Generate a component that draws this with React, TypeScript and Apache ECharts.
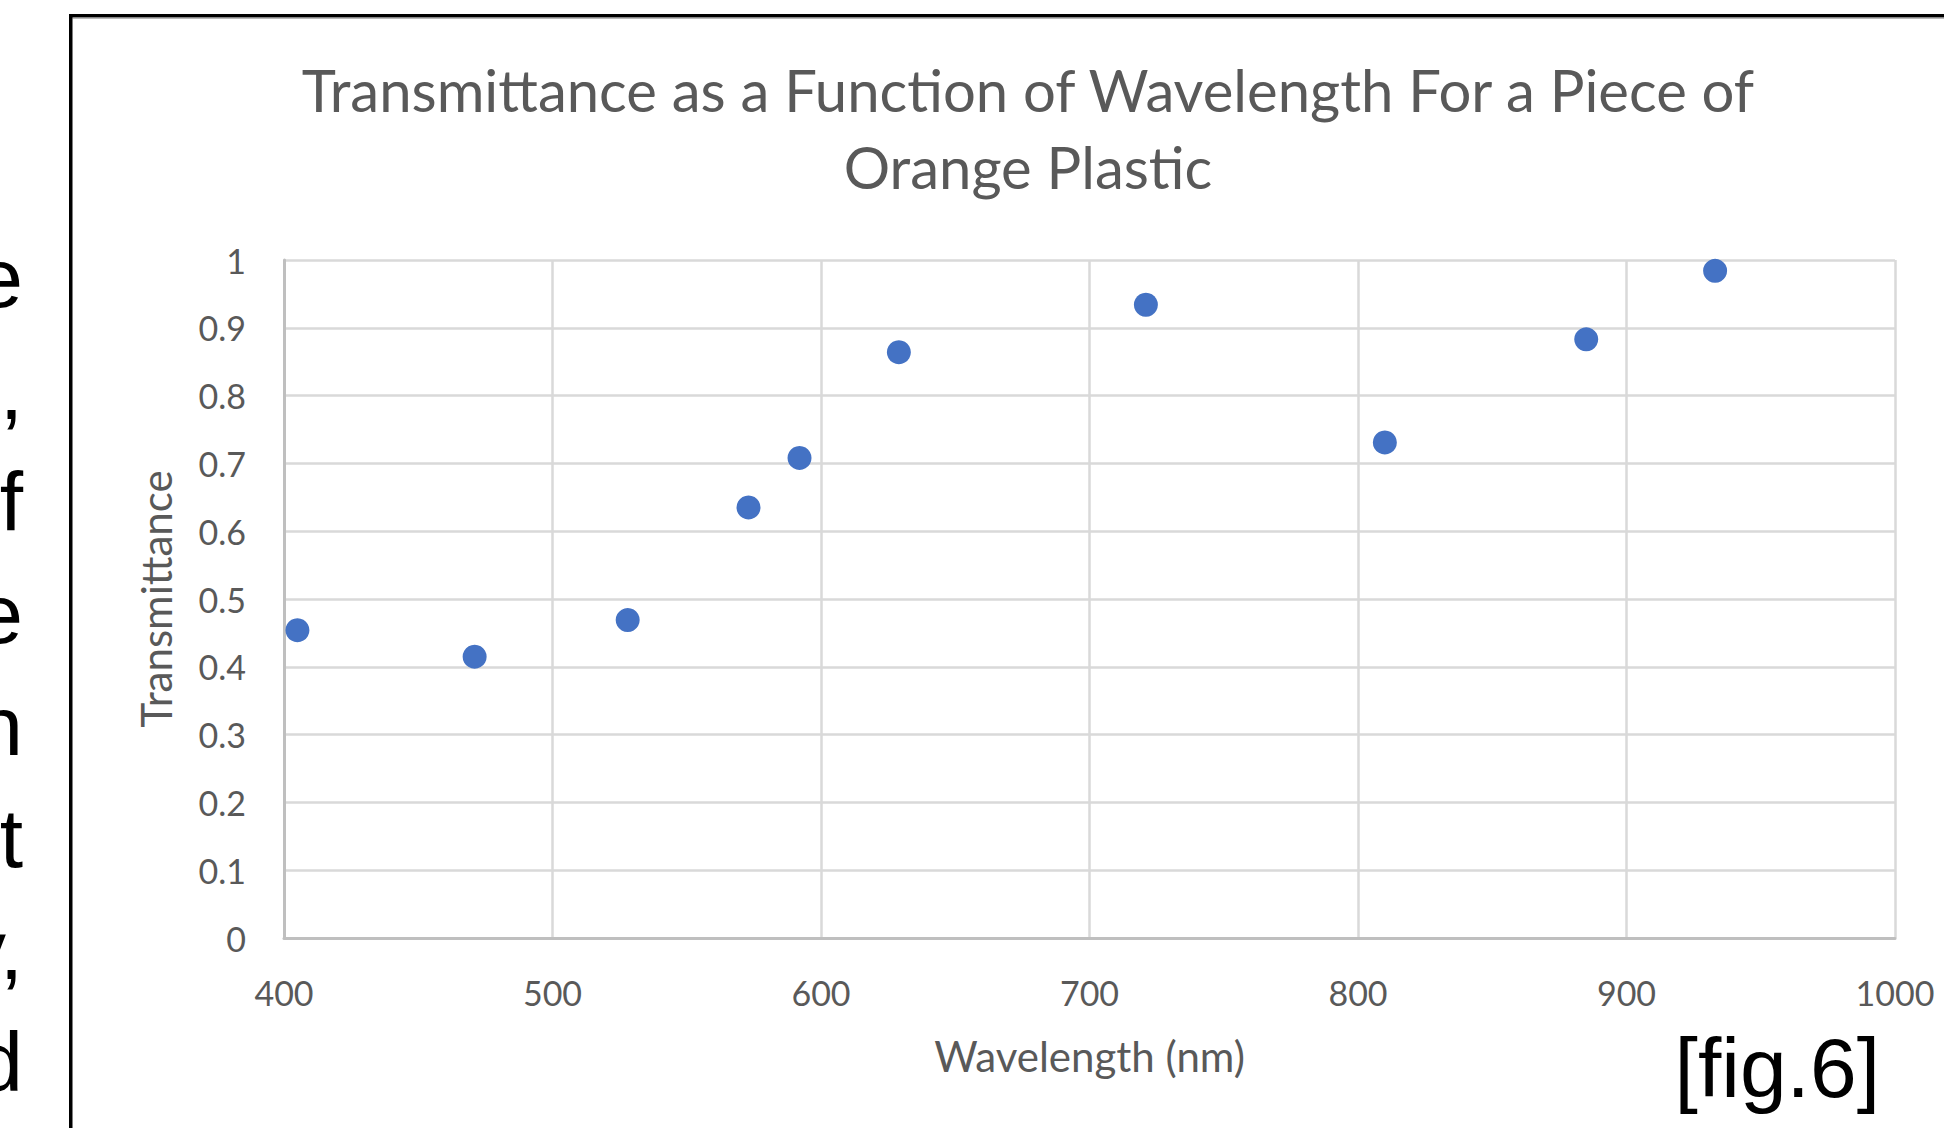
import React, { useEffect, useRef } from "react";
import * as echarts from "echarts";

const wavelengths = [405, 471, 528, 573, 592, 629, 721, 810, 885, 933];
const transmittance = [0.454, 0.415, 0.469, 0.635, 0.708, 0.864, 0.934, 0.731, 0.883, 0.984];
const titleLines = ["Transmittance as a Function of Wavelength For a Piece of", "Orange Plastic"];
const fragmentLines = ["e", ",", "f", "e", "n", "t", "y,", "d"];
const figLabel = "[fig.6]";

const GRAY = "#595959";

export default function App() {
  const ref = useRef<HTMLDivElement>(null);
  useEffect(() => {
    if (!ref.current) return;
    const chart = echarts.init(ref.current, null, { renderer: "svg" });
    const data = wavelengths.map((w, i) => [w, transmittance[i]]);
    const graphics: any[] = [];
    // outer frame
    graphics.push({
      type: "line",
      shape: { x1: 69, y1: 15.75, x2: 1944, y2: 15.75 },
      style: { stroke: "#000", lineWidth: 3.5 },
    });
    graphics.push({
      type: "line",
      shape: { x1: 72.5, y1: 18.2, x2: 1944, y2: 18.2 },
      style: { stroke: "#9a9a9a", lineWidth: 1 },
    });
    graphics.push({
      type: "line",
      shape: { x1: 70.75, y1: 14, x2: 70.75, y2: 1128 },
      style: { stroke: "#000", lineWidth: 3.5 },
    });
    titleLines.forEach((t, i) => {
      graphics.push({
        type: "text",
        x: 1028,
        y: 89 + i * 77,
        style: {
          text: t,
          fill: GRAY,
          font: "58px Lato",
          align: "center",
          verticalAlign: "middle",
        },
      });
    });
    fragmentLines.forEach((t, i) => {
      graphics.push({
        type: "text",
        x: 23,
        y: 307 + i * 112 - 29,
        style: {
          text: t,
          fill: "#000",
          font: "84px 'Liberation Sans'",
          align: "right",
          verticalAlign: "middle",
        },
      });
    });
    graphics.push({
      type: "text",
      x: 1880,
      y: 1068,
      style: {
        text: figLabel,
        fill: "#000",
        font: "84px 'Liberation Sans'",
        align: "right",
        verticalAlign: "middle",
      },
    });

    chart.setOption({
      animation: false,
      backgroundColor: "#fff",
      grid: { left: 284, right: 49, top: 260, bottom: 190, containLabel: false },
      xAxis: {
        type: "value",
        min: 400,
        max: 1000,
        interval: 100,
        name: "Wavelength (nm)",
        nameLocation: "middle",
        nameGap: 97,
        nameTextStyle: { color: GRAY, fontSize: 42, fontFamily: "Lato" },
        axisLine: { show: true, onZero: false, lineStyle: { color: "#bfbfbf", width: 3 } },
        axisTick: { show: false },
        axisLabel: {
          color: GRAY,
          fontSize: 34,
          fontFamily: "Lato",
          margin: 37,
          formatter: (v: number) => String(v),
        },
        splitLine: { show: true, lineStyle: { color: "#d9d9d9", width: 2.5 } },
      },
      yAxis: {
        type: "value",
        min: 0,
        max: 1,
        interval: 0.1,
        name: "Transmittance",
        nameLocation: "middle",
        nameGap: 107,
        nameTextStyle: { color: GRAY, fontSize: 42, fontFamily: "Lato" },
        axisLine: { show: true, lineStyle: { color: "#bfbfbf", width: 3 } },
        axisTick: { show: false },
        axisLabel: {
          color: GRAY,
          fontSize: 34,
          fontFamily: "Lato",
          margin: 38,
          formatter: (v: number) => String(Math.round(v * 10) / 10),
        },
        splitLine: { show: true, lineStyle: { color: "#d9d9d9", width: 2.5 } },
      },
      series: [
        {
          type: "scatter",
          data,
          symbol: "circle",
          symbolSize: 24,
          itemStyle: { color: "#4472C4", opacity: 1 },
        },
      ],
      graphic: graphics,
    });
    return () => chart.dispose();
  }, []);
  return (
    <div
      ref={ref}
      style={{ position: "absolute", left: 0, top: 0, width: 1944, height: 1128 }}
    />
  );
}
